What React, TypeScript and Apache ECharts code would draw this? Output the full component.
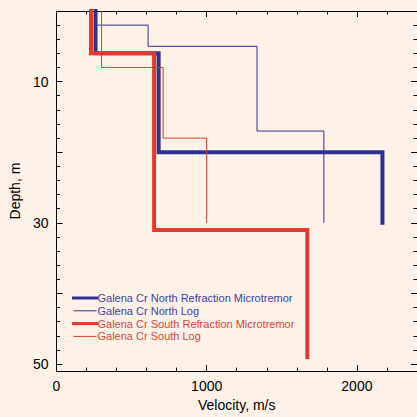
import React, { useEffect, useRef } from "react";
import * as echarts from "echarts";

// Layer tops (m) and velocities (m/s); each profile ends at its bottom depth
const northRefrTops = [0, 6, 20];
const northRefrVel = [260, 680, 2170];
const northRefrBottom = 30;

const northLogTops = [0, 2, 5, 17];
const northLogVel = [260, 610, 1335, 1780];
const northLogBottom = 30;

const southRefrTops = [0, 6, 31];
const southRefrVel = [230, 650, 1670];
const southRefrBottom = 49;

const southLogTops = [0, 8, 18];
const southLogVel = [300, 710, 1000];
const southLogBottom = 30;

const seriesNames = [
  "Galena Cr North Refraction Microtremor",
  "Galena Cr North Log",
  "Galena Cr South Refraction Microtremor",
  "Galena Cr South Log",
];

const xLabelValues = [0, 1000, 2000];
const xMajorTicks = [0, 1000, 2000];
const xMinorTicks = [0, 200, 400, 600, 800, 1000, 1200, 1400, 1600, 1800, 2000, 2200, 2400];
const yLabelValues = [10, 30, 50];
const yMajorTicks = [0, 10, 20, 30, 40, 50];
const yMinorTicks = [0, 2, 4, 6, 8, 10, 12, 14, 16, 18, 20, 22, 24, 26, 28, 30, 32, 34, 36, 38, 40, 42, 44, 46, 48, 50];

function profile(tops: number[], vel: number[], bottom: number) {
  const pts: [number, number][] = [];
  for (let i = 0; i < tops.length; i++) {
    const next = i + 1 < tops.length ? tops[i + 1] : bottom;
    pts.push([vel[i], tops[i]]);
    pts.push([vel[i], next]);
  }
  return pts;
}

const BLUE = "#2E3192";
const RED = "#DE3A30";
const FONT = "Liberation Sans";

export default function App() {
  const ref = useRef<HTMLDivElement>(null);
  useEffect(() => {
    if (!ref.current) return;
    const chart = echarts.init(ref.current, undefined, { renderer: "svg" });
    const axisBase = { type: "value" as const, min: 0, splitLine: { show: false } };
    const xCommon = { ...axisBase, max: 2400, gridIndex: 0 };
    const yCommon = { ...axisBase, max: 51, inverse: true, gridIndex: 0 };
    const line = { show: true, onZero: false, lineStyle: { color: "#000", width: 1 } };
    const noLine = { show: false, onZero: false };
    const major = (vals: number[]) => ({
      show: true,
      inside: true,
      length: 6,
      customValues: vals,
      lineStyle: { color: "#000" },
    });
    const minor = (vals: number[]) => ({
      show: true,
      inside: true,
      length: 3.5,
      customValues: vals,
      lineStyle: { color: "#000" },
    });
    const labelCommon = {
      fontSize: 14,
      color: "#000",
      fontFamily: FONT,
      formatter: (v: number) => String(v),
    };
    chart.setOption({
      animation: false,
      backgroundColor: "#FEF1E8",
      textStyle: { fontFamily: FONT },
      grid: { left: 49, top: 11, width: 369, height: 369, containLabel: false },
      legend: {
        orient: "vertical",
        left: 72,
        top: 292,
        itemWidth: 23,
        itemHeight: 12,
        itemGap: 0.8,
        padding: 0,
        itemStyle: { opacity: 0 },
        data: [
          { name: seriesNames[0], textStyle: { color: "#3C43A4" }, lineStyle: { width: 3 } },
          { name: seriesNames[1], textStyle: { color: "#3C43A4" }, lineStyle: { width: 1 } },
          { name: seriesNames[2], textStyle: { color: "#E0443A" }, lineStyle: { width: 3 } },
          { name: seriesNames[3], textStyle: { color: "#E0443A" }, lineStyle: { width: 1 } },
        ],
        textStyle: { fontSize: 11, fontFamily: FONT, padding: [0, 0, 0, -4], lineHeight: 12 },
      },
      xAxis: [
        {
          ...xCommon,
          position: "bottom",
          axisLine: line,
          axisTick: major(xMajorTicks),
          axisLabel: { ...labelCommon, customValues: xLabelValues, margin: 8 },
          name: "Velocity, m/s",
          nameLocation: "middle",
          nameGap: 21,
          nameTextStyle: { fontSize: 14, color: "#000", fontFamily: FONT },
        },
        {
          ...xCommon,
          position: "bottom",
          axisLine: noLine,
          axisTick: minor(xMinorTicks),
          axisLabel: { show: false },
        },
        {
          ...xCommon,
          position: "top",
          axisLine: line,
          axisTick: major(xMajorTicks),
          axisLabel: { show: false },
        },
        {
          ...xCommon,
          position: "top",
          axisLine: noLine,
          axisTick: minor(xMinorTicks),
          axisLabel: { show: false },
        },
      ],
      yAxis: [
        {
          ...yCommon,
          position: "left",
          axisLine: line,
          axisTick: major(yMajorTicks),
          axisLabel: { ...labelCommon, customValues: yLabelValues, margin: 8 },
          name: "Depth, m",
          nameLocation: "middle",
          nameGap: 26,
          nameTextStyle: { fontSize: 14, color: "#000", fontFamily: FONT },
        },
        {
          ...yCommon,
          position: "left",
          axisLine: noLine,
          axisTick: minor(yMinorTicks),
          axisLabel: { show: false },
        },
        {
          ...yCommon,
          position: "right",
          axisLine: line,
          axisTick: major(yMajorTicks),
          axisLabel: { show: false },
        },
        {
          ...yCommon,
          position: "right",
          axisLine: noLine,
          axisTick: minor(yMinorTicks),
          axisLabel: { show: false },
        },
      ],
      series: [
        {
          name: seriesNames[0],
          type: "line",
          symbol: "none",
          data: profile(northRefrTops, northRefrVel, northRefrBottom),
          lineStyle: { color: BLUE, width: 4, cap: "square", join: "miter" },
          itemStyle: { color: BLUE },
        },
        {
          name: seriesNames[1],
          type: "line",
          symbol: "none",
          data: profile(northLogTops, northLogVel, northLogBottom),
          lineStyle: { color: BLUE, width: 1 },
          itemStyle: { color: BLUE },
        },
        {
          name: seriesNames[2],
          type: "line",
          symbol: "none",
          data: profile(southRefrTops, southRefrVel, southRefrBottom),
          lineStyle: { color: RED, width: 4, cap: "square", join: "miter" },
          itemStyle: { color: RED },
        },
        {
          name: seriesNames[3],
          type: "line",
          symbol: "none",
          data: profile(southLogTops, southLogVel, southLogBottom),
          lineStyle: { color: RED, width: 1 },
          itemStyle: { color: RED },
        },
      ],
    });
    return () => chart.dispose();
  }, []);
  return (
    <div
      ref={ref}
      style={{ position: "fixed", left: 0, top: 0, width: 417, height: 417 }}
    />
  );
}
